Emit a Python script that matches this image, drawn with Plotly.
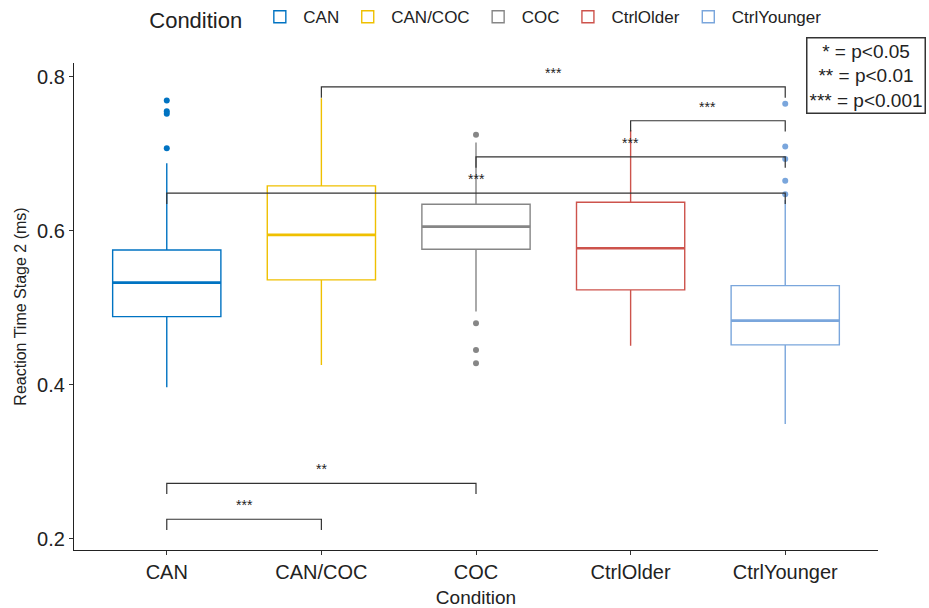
import plotly.graph_objects as go

categories = ["CAN", "CAN/COC", "COC", "CtrlOlder", "CtrlYounger"]
colors = ["#0073C2", "#EFC000", "#868686", "#CD534C", "#7AA6DC"]
q1 = [0.4887, 0.5364, 0.5762, 0.5234, 0.4520]
median = [0.5329, 0.5948, 0.6056, 0.5775, 0.4835]
q3 = [0.5753, 0.6584, 0.6347, 0.6373, 0.5290]
lowerfence = [0.3970, 0.4260, 0.4952, 0.4510, 0.3494]
upperfence = [0.6879, 0.7723, 0.7147, 0.7310, 0.6400]
outliers = [
    [0.7692, 0.7555, 0.7520, 0.7074],
    [],
    [0.7247, 0.4800, 0.4455, 0.4282],
    [],
    [0.7650, 0.7095, 0.6935, 0.6650, 0.6477],
]
# significance brackets: (group a, group b, height, label)
brackets = [
    (1, 4, 0.787, "***"),
    (3, 4, 0.743, "***"),
    (2, 4, 0.696, "***"),
    (0, 4, 0.649, "***"),
    (0, 2, 0.2723, "**"),
    (0, 1, 0.2256, "***"),
]
yticks = [0.2, 0.4, 0.6, 0.8]
legend_text = "* = p<0.05<br>** = p<0.01<br>*** = p<0.001"

FONT = "Liberation Sans, Arial, sans-serif"
BOXW = 0.7

fig = go.Figure()
for i, cat in enumerate(categories):
    fig.add_trace(go.Box(
        x=[i], q1=[q1[i]], median=[median[i]], q3=[q3[i]],
        lowerfence=[lowerfence[i]], upperfence=[upperfence[i]],
        name=cat, width=BOXW, whiskerwidth=0,
        line=dict(color=colors[i], width=1.4),
        fillcolor="rgba(255,255,255,0)", boxpoints=False,
        hoverinfo="skip",
    ))
for i, cat in enumerate(categories):
    # thicker median like ggplot
    fig.add_trace(go.Scatter(
        x=[i - BOXW / 2, i + BOXW / 2], y=[median[i], median[i]],
        mode="lines", line=dict(color=colors[i], width=2.6),
        showlegend=False, hoverinfo="skip"))
    if outliers[i]:
        fig.add_trace(go.Scatter(
            x=[i] * len(outliers[i]), y=outliers[i], mode="markers",
            marker=dict(color=colors[i], size=6),
            showlegend=False, hoverinfo="skip"))

tick = 0.014
for a, b, h, lab in brackets:
    fig.add_trace(go.Scatter(
        x=[a, a, b, b], y=[h - tick, h, h, h - tick], mode="lines",
        line=dict(color="#333333", width=1.2),
        showlegend=False, hoverinfo="skip"))
    fig.add_annotation(x=(a + b) / 2, y=h, text=lab, showarrow=False,
                       yshift=14, font=dict(size=14, color="#222222", family=FONT))

fig.add_annotation(xref="paper", yref="paper", x=1.0597, y=1.053,
                   xanchor="right", yanchor="top", text=legend_text,
                   showarrow=False, align="center",
                   font=dict(size=19, color="#222222", family=FONT),
                   bordercolor="#333333", borderwidth=1.5, borderpad=2,
                   bgcolor="white")

fig.update_layout(
    width=929, height=608,
    margin=dict(l=74, r=51, t=63, b=58, autoexpand=False),
    paper_bgcolor="white", plot_bgcolor="white",
    font=dict(family=FONT, color="#222222"),
    legend=dict(orientation="h", x=0.514, xanchor="center", y=1.131, yanchor="top",
                title=dict(text="Condition ", font=dict(size=22)),
                font=dict(size=17), itemwidth=37, tracegroupgap=0),
    xaxis=dict(range=[-0.6, 4.6], tickvals=list(range(len(categories))),
               ticktext=categories, showline=True, linecolor="#222222", linewidth=1.2,
               ticks="outside", ticklen=4, tickcolor="#333333", showgrid=False,
               zeroline=False, tickfont=dict(size=20, color="#222222"),
               title=dict(text="Condition", font=dict(size=19), standoff=8)),
    yaxis=dict(range=[0.1857, 0.818], tickvals=yticks,
               ticktext=[f"{v:.1f}" for v in yticks], showline=True,
               linecolor="#222222", linewidth=1.2, ticks="outside", ticklen=4,
               tickcolor="#333333", showgrid=False, zeroline=False,
               tickfont=dict(size=20, color="#222222"),
               title=dict(text="Reaction Time Stage 2 (ms)", font=dict(size=16), standoff=6)),
)

fig.write_html("out.html")
